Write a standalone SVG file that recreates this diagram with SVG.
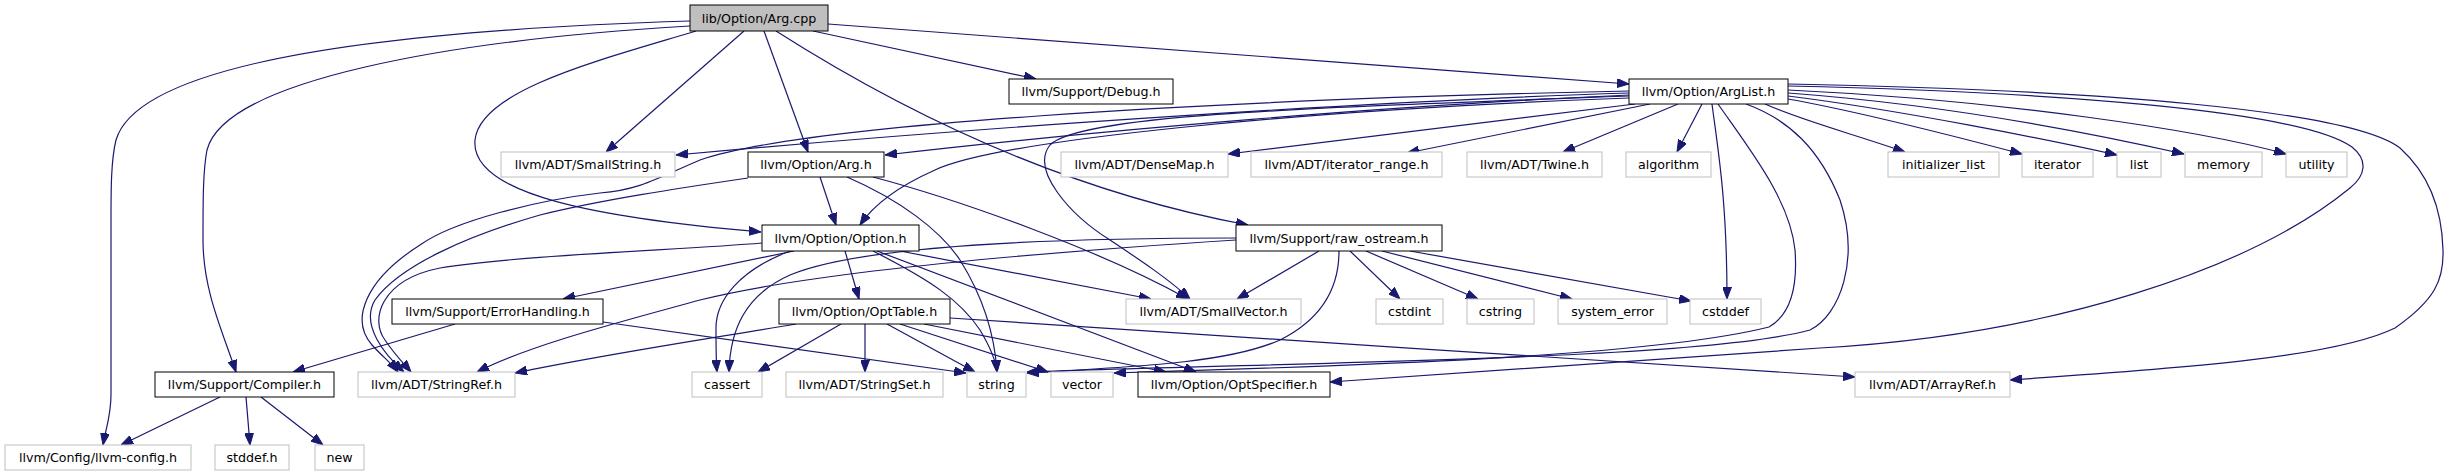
<svg xmlns="http://www.w3.org/2000/svg" width="2447" height="476" viewBox="0 0 2447 476">
<style>
.n rect{fill:#fff;stroke:#000;stroke-width:1}
.u rect{fill:#fff;stroke:#bfbfbf;stroke-width:1}
.r rect{fill:#bfbfbf;stroke:#000;stroke-width:1}
text{font-family:"DejaVu Sans","Liberation Sans",sans-serif;font-size:12.67px;text-anchor:middle;fill:#000}
#edges path{fill:none;stroke:#191970;stroke-width:1.2;marker-end:url(#a)}
</style>
<defs>
<marker id="a" markerWidth="12" markerHeight="9" refX="12" refY="4.5" orient="auto" markerUnits="userSpaceOnUse"><path d="M0,0 L12,4.5 L0,9 z" fill="#191970" stroke="#191970" stroke-width="1"/></marker>
</defs>
<rect width="2447" height="476" fill="#fff"/>
<g id="edges">
<path d="M813,31 L1036,79"/>
<path d="M828,24 L1629,84"/>
<path d="M744,31 L606,152"/>
<path d="M764,31 L808,152"/>
<path d="M696,31 C600,60 480,90 475,140 C470,195 600,218 761,232"/>
<path d="M776,31 C900,110 1060,190 1248,225"/>
<path d="M690,21 C400,30 140,60 116,140 C111,160 111,190 111,220 L111,395 C111,415 106,428 103,445"/>
<path d="M690,26 C450,40 225,80 207,150 C203,170 203,200 203,240 C203,290 222,330 236,372"/>
<path d="M1629,93 C1400,100 1000,125 676,155"/>
<path d="M1629,95 C1400,105 1100,130 885,155"/>
<path d="M1629,98 C1300,110 1000,140 935,170 C890,190 870,210 860,225"/>
<path d="M1629,91 C1200,100 800,125 700,160 C660,177 640,190 600,193 C540,200 455,220 420,245 C365,280 350,320 372,345 C382,356 392,364 398,372"/>
<path d="M1629,96 C1300,108 1080,115 1050,145 C1030,170 1070,215 1110,240 C1140,260 1170,280 1190,299"/>
<path d="M1635,104 L1228,154"/>
<path d="M1650,104 L1407,153"/>
<path d="M1678,104 L1563,152"/>
<path d="M1702,104 L1677,152"/>
<path d="M1712,104 C1718,150 1727,200 1727,299"/>
<path d="M1718,104 C1750,150 1790,200 1795,250 C1798,290 1790,315 1769,327 C1650,357 1350,366 1114,373"/>
<path d="M1746,104 C1790,120 1820,150 1840,200 C1860,260 1840,315 1810,330 C1700,360 1300,362 1027,372"/>
<path d="M1765,104 C1800,120 1850,133 1905,152"/>
<path d="M1788,99 C1850,110 1950,135 2022,154"/>
<path d="M1788,96 C1900,110 2050,140 2117,155"/>
<path d="M1788,93 C1950,105 2100,135 2184,154"/>
<path d="M1788,90 C2000,100 2200,130 2286,154"/>
<path d="M1788,86 C2050,92 2300,110 2352,147 C2368,160 2366,175 2350,188 C2250,270 2050,335 1820,348 C1600,362 1450,375 1330,382"/>
<path d="M1788,84 C2100,90 2350,110 2400,148 C2430,175 2442,210 2443,250 C2444,280 2435,300 2395,328 C2330,360 2150,370 2010,380"/>
<path d="M820,177 L836,225"/>
<path d="M748,178 C680,188 600,200 540,215 C470,235 400,265 375,300 C360,325 385,355 404,372"/>
<path d="M847,177 C900,200 940,230 960,260 C985,300 995,340 997,372"/>
<path d="M873,177 C960,200 1100,250 1188,299"/>
<path d="M762,243 C680,250 520,255 440,268 C380,280 370,320 385,340 C395,355 405,365 411,372"/>
<path d="M794,251 L563,299"/>
<path d="M790,251 C740,270 715,300 716,330 C716,350 716,360 717,372"/>
<path d="M845,251 L859,299"/>
<path d="M873,251 C930,280 960,300 980,330 C992,350 996,362 997,372"/>
<path d="M877,251 L1196,372"/>
<path d="M900,251 L1151,299"/>
<path d="M796,324 C700,340 600,355 515,373"/>
<path d="M841,324 L758,372"/>
<path d="M865,324 L865,372"/>
<path d="M887,324 L975,372"/>
<path d="M900,324 L1048,372"/>
<path d="M924,324 L1166,372"/>
<path d="M950,318 C1200,335 1600,360 1855,377"/>
<path d="M1319,251 L1237,299"/>
<path d="M1236,240 C1000,255 800,275 700,300 C620,322 530,345 477,372"/>
<path d="M1236,238 C1000,238 850,250 790,275 C745,295 730,330 729,372"/>
<path d="M1350,251 L1400,299"/>
<path d="M1366,251 L1478,299"/>
<path d="M1382,251 L1572,299"/>
<path d="M1410,251 L1691,301"/>
<path d="M1339,251 C1339,290 1320,320 1280,340 C1230,362 1150,366 1027,373"/>
<path d="M455,324 L293,372"/>
<path d="M603,322 L966,373"/>
<path d="M220,397 L121,445"/>
<path d="M246,397 L250,445"/>
<path d="M261,397 L323,445"/>
</g>
<g id="n-argcpp" class="r"><rect x="690" y="5" width="138" height="26"/><text x="759" y="22.5">lib/Option/Arg.cpp</text></g>
<g id="n-debug" class="n"><rect x="1009" y="79" width="164" height="25"/><text x="1091" y="96">llvm/Support/Debug.h</text></g>
<g id="n-arglist" class="n"><rect x="1629" y="79" width="159" height="25"/><text x="1708.5" y="96">llvm/Option/ArgList.h</text></g>
<g id="n-smallstring" class="u"><rect x="501" y="152" width="174" height="25"/><text x="588" y="169">llvm/ADT/SmallString.h</text></g>
<g id="n-argh" class="n"><rect x="748" y="152" width="136" height="25"/><text x="816" y="169">llvm/Option/Arg.h</text></g>
<g id="n-densemap" class="u"><rect x="1061" y="152" width="167" height="25"/><text x="1144.5" y="169">llvm/ADT/DenseMap.h</text></g>
<g id="n-iterrange" class="u"><rect x="1251" y="152" width="191" height="25"/><text x="1346.5" y="169">llvm/ADT/iterator_range.h</text></g>
<g id="n-twine" class="u"><rect x="1467" y="152" width="135" height="25"/><text x="1534.5" y="169">llvm/ADT/Twine.h</text></g>
<g id="n-algorithm" class="u"><rect x="1626" y="152" width="85" height="25"/><text x="1668.5" y="169">algorithm</text></g>
<g id="n-initlist" class="u"><rect x="1888" y="152" width="111" height="25"/><text x="1943.5" y="169">initializer_list</text></g>
<g id="n-iterator" class="u"><rect x="2022" y="152" width="71" height="25"/><text x="2057.5" y="169">iterator</text></g>
<g id="n-list" class="u"><rect x="2117" y="152" width="44" height="25"/><text x="2139" y="169">list</text></g>
<g id="n-memory" class="u"><rect x="2185" y="152" width="77" height="25"/><text x="2223.5" y="169">memory</text></g>
<g id="n-utility" class="u"><rect x="2286" y="152" width="61" height="25"/><text x="2316.5" y="169">utility</text></g>
<g id="n-option" class="n"><rect x="762" y="225" width="157" height="26"/><text x="840.5" y="242.5">llvm/Option/Option.h</text></g>
<g id="n-rawostream" class="n"><rect x="1236" y="225" width="206" height="26"/><text x="1339" y="242.5">llvm/Support/raw_ostream.h</text></g>
<g id="n-errorhandling" class="n"><rect x="392" y="299" width="211" height="25"/><text x="497.5" y="316">llvm/Support/ErrorHandling.h</text></g>
<g id="n-opttable" class="n"><rect x="779" y="299" width="171" height="25"/><text x="864.5" y="316">llvm/Option/OptTable.h</text></g>
<g id="n-smallvector" class="u"><rect x="1126" y="299" width="175" height="25"/><text x="1213.5" y="316">llvm/ADT/SmallVector.h</text></g>
<g id="n-cstdint" class="u"><rect x="1376" y="299" width="67" height="25"/><text x="1409.5" y="316">cstdint</text></g>
<g id="n-cstring" class="u"><rect x="1467" y="299" width="67" height="25"/><text x="1500.5" y="316">cstring</text></g>
<g id="n-syserror" class="u"><rect x="1558" y="299" width="109" height="25"/><text x="1612.5" y="316">system_error</text></g>
<g id="n-cstddef" class="u"><rect x="1690" y="299" width="71" height="25"/><text x="1725.5" y="316">cstddef</text></g>
<g id="n-compiler" class="n"><rect x="155" y="372" width="179" height="25"/><text x="244.5" y="389">llvm/Support/Compiler.h</text></g>
<g id="n-stringref" class="u"><rect x="358" y="372" width="157" height="25"/><text x="436.5" y="389">llvm/ADT/StringRef.h</text></g>
<g id="n-cassert" class="u"><rect x="692" y="372" width="70" height="25"/><text x="727" y="389">cassert</text></g>
<g id="n-stringset" class="u"><rect x="786" y="372" width="157" height="25"/><text x="864.5" y="389">llvm/ADT/StringSet.h</text></g>
<g id="n-string" class="u"><rect x="967" y="372" width="59" height="25"/><text x="996.5" y="389">string</text></g>
<g id="n-vector" class="u"><rect x="1051" y="372" width="62" height="25"/><text x="1082" y="389">vector</text></g>
<g id="n-optspec" class="n"><rect x="1138" y="372" width="192" height="25"/><text x="1234" y="389">llvm/Option/OptSpecifier.h</text></g>
<g id="n-arrayref" class="u"><rect x="1855" y="372" width="155" height="25"/><text x="1932.5" y="389">llvm/ADT/ArrayRef.h</text></g>
<g id="n-llvmconfig" class="u"><rect x="5" y="445" width="186" height="25"/><text x="98" y="462">llvm/Config/llvm-config.h</text></g>
<g id="n-stddef" class="u"><rect x="215" y="445" width="74" height="25"/><text x="252" y="462">stddef.h</text></g>
<g id="n-new" class="u"><rect x="315" y="445" width="49" height="25"/><text x="339.5" y="462">new</text></g>
</svg>
